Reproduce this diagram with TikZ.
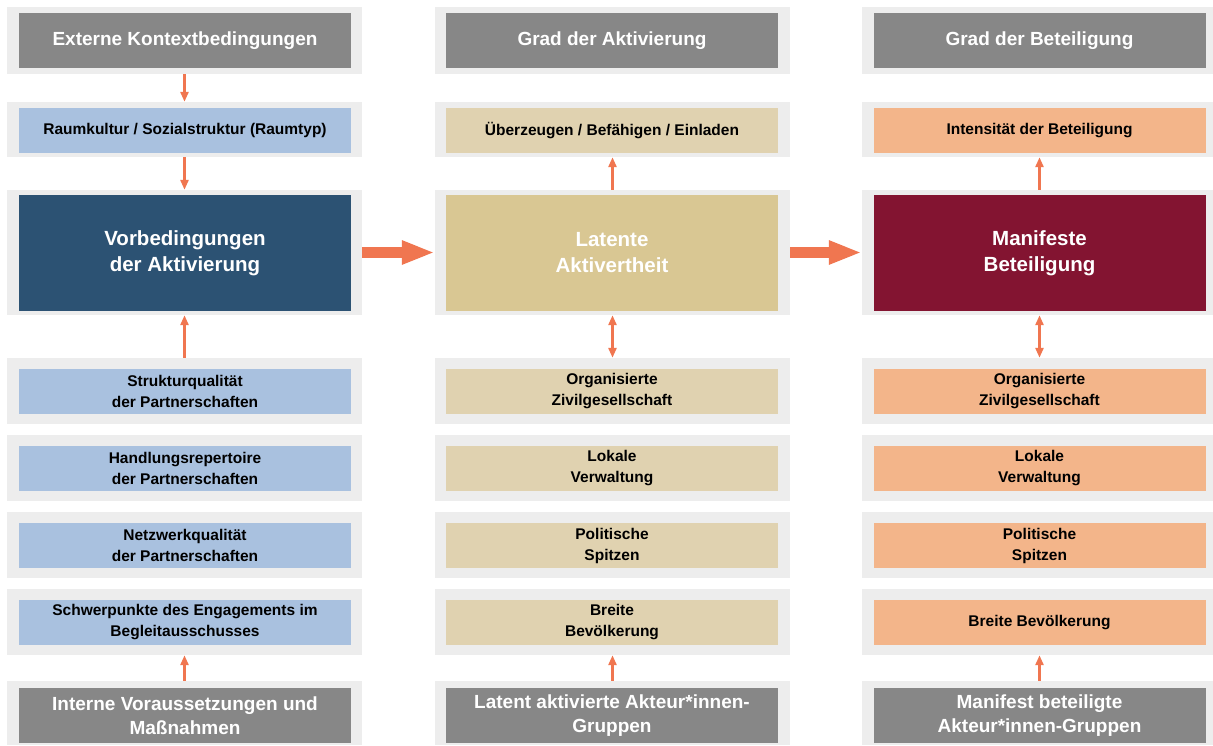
\documentclass[tikz,border=0pt]{standalone}
\usepackage{fontspec}
\setmainfont{Liberation Sans}
\usepackage{xcolor}
\definecolor{boxGray}{HTML}{878787}
\definecolor{panelGray}{HTML}{EDEDED}
\definecolor{vbBlue}{HTML}{2C5273}
\definecolor{vbBlueLight}{HTML}{A9C1DF}
\definecolor{laTan}{HTML}{D9C793}
\definecolor{laTanLight}{HTML}{E0D2B0}
\definecolor{mbRed}{HTML}{831431}
\definecolor{mbOrange}{HTML}{F3B58A}
\definecolor{arrowOrange}{HTML}{F07650}
\usepackage{tikz}
\usetikzlibrary{arrows.meta}
\tikzset{panel/.style={fill=panelGray, minimum width=355pt, inner sep=0pt}}
\tikzset{headbox/.style={fill=boxGray, text=white, minimum width=332pt, minimum height=55pt, inner sep=0pt, align=center, font=\fontsize{19}{24}\selectfont\bfseries}}
\tikzset{subbox/.style={minimum width=332pt, minimum height=45pt, inner sep=0pt, align=center, font=\fontsize{15.5}{21}\selectfont\bfseries}}
\tikzset{corebox/.style={text=white, minimum width=332pt, minimum height=116pt, inner sep=0pt, align=center, font=\fontsize{20.5}{26}\selectfont\bfseries}}
\tikzset{link/.style={draw=arrowOrange, line width=2.5pt, -{Triangle[length=10pt,width=8pt]}}}
\tikzset{twoway/.style={draw=arrowOrange, line width=2.5pt, {Triangle[length=10pt,width=8pt]}-{Triangle[length=10pt,width=8pt]}}}
\tikzset{flow/.style={draw=arrowOrange, line width=11pt, -{Triangle[length=33pt,width=22pt]}}}

\begin{document}
\begin{tikzpicture}[x=1pt,y=-1pt]
\useasboundingbox (0,0) rectangle (1213,745);
%--------------------
% Vorbedingungen
%--------------------
\node[panel, minimum height=67pt](extP) at (184.5,40.5){};
\node[headbox](ext) at (185,40.5){Externe Kontextbedingungen};
\node[panel, minimum height=55pt](raumP) at (184.5,129.5){};
\node[subbox, fill=vbBlueLight](raum) at (185,130.5){Raumkultur / Sozialstruktur (Raumtyp)};
\node[panel, minimum height=125pt](vorP) at (184.5,252.5){};
\node[corebox, fill=vbBlue](vor) at (185,253){Vorbedingungen\\der Aktivierung};
\node[panel, minimum height=66pt](strukP) at (184.5,391){};
\node[subbox, fill=vbBlueLight](struk) at (185,391.5){Strukturqualität\\der Partnerschaften};
\node[panel, minimum height=66pt](handP) at (184.5,468){};
\node[subbox, fill=vbBlueLight](hand) at (185,468.5){Handlungsrepertoire\\der Partnerschaften};
\node[panel, minimum height=66pt](netzP) at (184.5,545){};
\node[subbox, fill=vbBlueLight](netz) at (185,545.5){Netzwerkqualität\\der Partnerschaften};
\node[panel, minimum height=66pt](schwP) at (184.5,622){};
\node[subbox, fill=vbBlueLight](schw) at (185,622.5){Schwerpunkte des Engagements im\\Begleitausschusses};
\node[panel, minimum height=64pt](intP) at (184.5,713){};
\node[headbox](int) at (185,715.5){Interne Voraussetzungen und\\Maßnahmen};

\draw[link](extP.south) -- (raumP.north);
\draw[link](raumP.south) -- (vorP.north);
\draw[link](strukP.north) -- (vorP.south);
\draw[link](intP.north) -- (schwP.south);

%--------------------
% Latente Aktivertheit
%--------------------
\node[panel, minimum height=67pt](aktP) at (612.5,40.5){};
\node[headbox](akt) at (612,40.5){Grad der Aktivierung};
\node[panel, minimum height=55pt](uebP) at (612.5,129.5){};
\node[subbox, fill=laTanLight](ueb) at (612,130.5){Überzeugen / Befähigen / Einladen};
\node[panel, minimum height=125pt](latP) at (612.5,252.5){};
\node[corebox, fill=laTan](lat) at (612,253){Latente\\Aktivertheit};
\node[panel, minimum height=66pt](orgLP) at (612.5,391){};
\node[subbox, fill=laTanLight](orgL) at (612,391.5){Organisierte\\Zivilgesellschaft};
\node[panel, minimum height=66pt](verwLP) at (612.5,468){};
\node[subbox, fill=laTanLight](verwL) at (612,468.5){Lokale\\Verwaltung};
\node[panel, minimum height=66pt](polLP) at (612.5,545){};
\node[subbox, fill=laTanLight](polL) at (612,545.5){Politische\\Spitzen};
\node[panel, minimum height=66pt](bevLP) at (612.5,622){};
\node[subbox, fill=laTanLight](bevL) at (612,622.5){Breite\\Bevölkerung};
\node[panel, minimum height=64pt](grpLP) at (612.5,713){};
\node[headbox](grpL) at (612,715.5){Latent aktivierte Akteur*innen-\\Gruppen};

\draw[link](latP.north) -- (uebP.south);
\draw[twoway](latP.south) -- (orgLP.north);
\draw[link](grpLP.north) -- (bevLP.south);

%--------------------
% Manifeste Beteiligung
%--------------------
\node[panel, minimum width=351pt, minimum height=67pt](betP) at (1037.5,40.5){};
\node[headbox](bet) at (1039.5,40.5){Grad der Beteiligung};
\node[panel, minimum width=351pt, minimum height=55pt](intsP) at (1037.5,129.5){};
\node[subbox, fill=mbOrange](ints) at (1039.5,130.5){Intensität der Beteiligung};
\node[panel, minimum width=351pt, minimum height=125pt](manP) at (1037.5,252.5){};
\node[corebox, fill=mbRed](man) at (1039.5,253){Manifeste\\Beteiligung};
\node[panel, minimum width=351pt, minimum height=66pt](orgMP) at (1037.5,391){};
\node[subbox, fill=mbOrange](orgM) at (1039.5,391.5){Organisierte\\Zivilgesellschaft};
\node[panel, minimum width=351pt, minimum height=66pt](verwMP) at (1037.5,468){};
\node[subbox, fill=mbOrange](verwM) at (1039.5,468.5){Lokale\\Verwaltung};
\node[panel, minimum width=351pt, minimum height=66pt](polMP) at (1037.5,545){};
\node[subbox, fill=mbOrange](polM) at (1039.5,545.5){Politische\\Spitzen};
\node[panel, minimum width=351pt, minimum height=66pt](bevMP) at (1037.5,622){};
\node[subbox, fill=mbOrange](bevM) at (1039.5,622.5){Breite Bevölkerung};
\node[panel, minimum width=351pt, minimum height=64pt](grpMP) at (1037.5,713){};
\node[headbox](grpM) at (1039.5,715.5){Manifest beteiligte\\Akteur*innen-Gruppen};

\draw[link](man.north |- manP.north) -- (man.north |- intsP.south);
\draw[twoway](man.south |- manP.south) -- (man.south |- orgMP.north);
\draw[link](grpM.north |- grpMP.north) -- (grpM.north |- bevMP.south);

%--------------------
% Vorbedingungen -> latent -> manifest
%--------------------
\draw[flow](vorP.east) -- (latP.west);
\draw[flow](latP.east) -- (manP.west);
\end{tikzpicture}
\end{document}
